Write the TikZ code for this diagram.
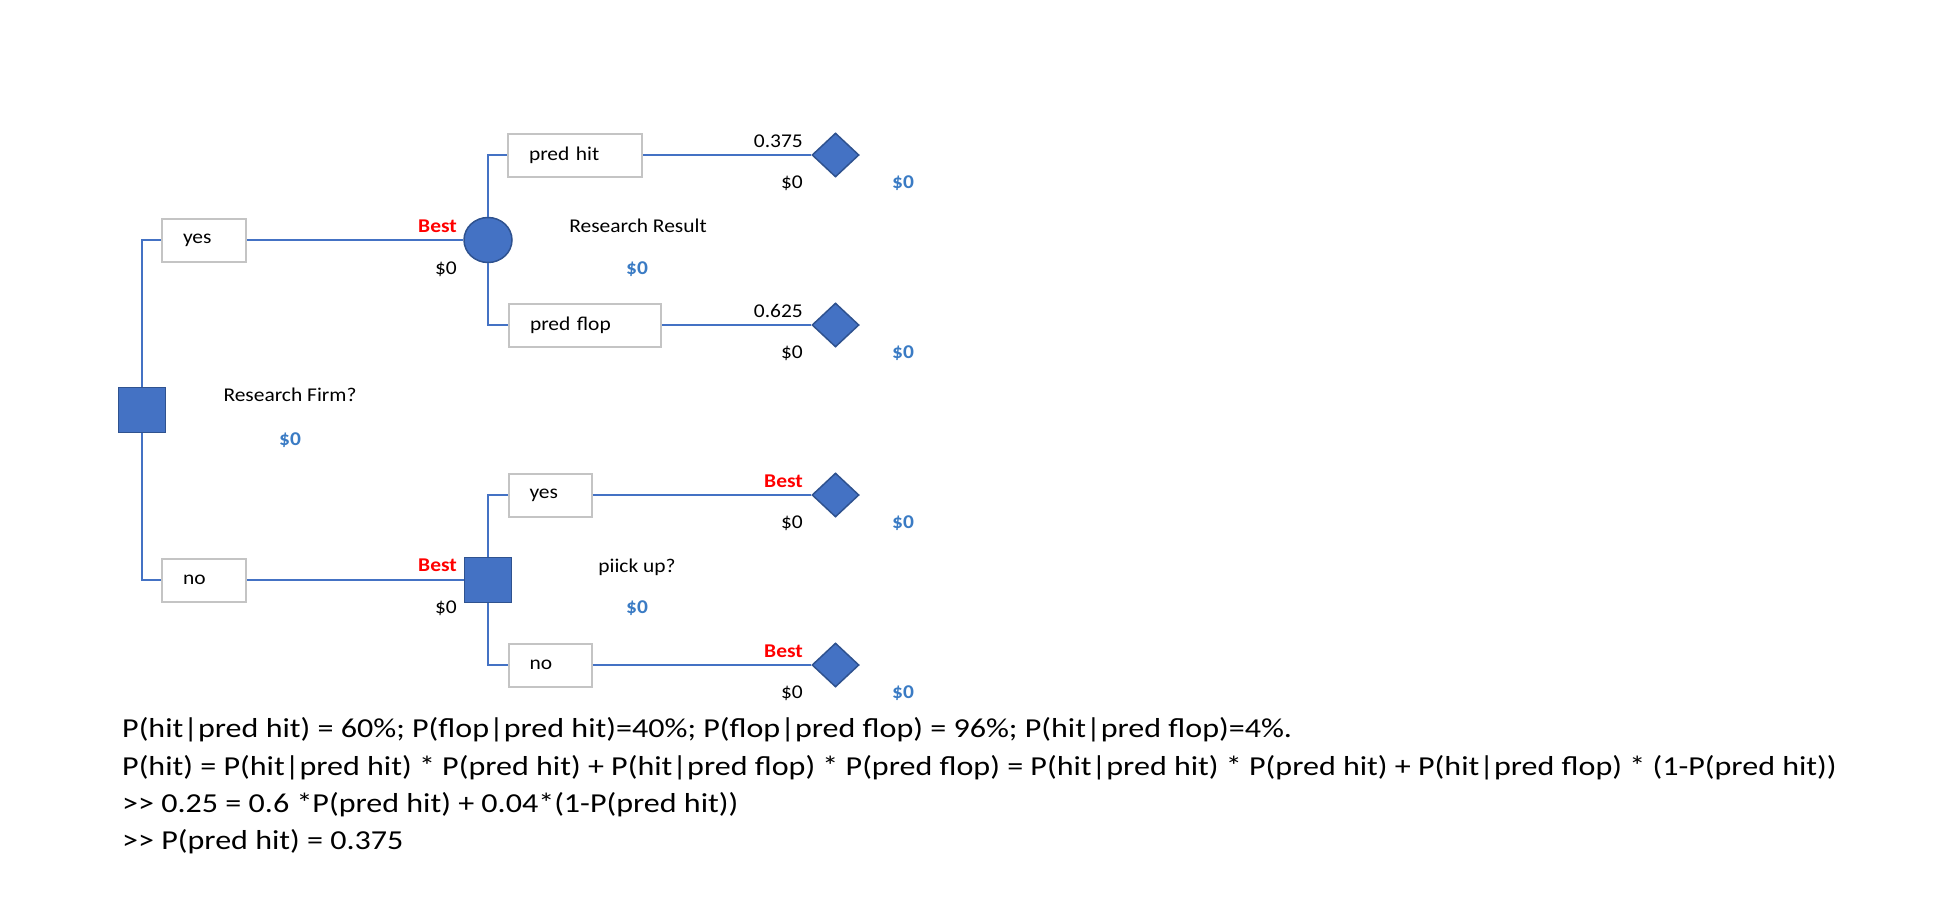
\documentclass[tikz,border=0pt]{standalone}
\usepackage{fontspec}
\setmainfont{Carlito}
\newfontfamily\diagfont{Carlito}[FakeStretch=1.1]
\newfontfamily\bottomfont{Carlito}[FakeStretch=1.17]
\usetikzlibrary{shapes.geometric}
\definecolor{nodeblue}{HTML}{4472C4}
\definecolor{nodeedge}{HTML}{2F528F}
\definecolor{boxgray}{HTML}{C4C4C4}
\definecolor{valblue}{HTML}{3A7BC4}
\definecolor{bestred}{HTML}{FF0000}
\tikzset{
  lbl/.style={inner sep=0pt, font=\diagfont\fontsize{19.5}{22}\selectfont},
  bestlbl/.style={lbl, text=bestred, font=\diagfont\fontsize{19.5}{22}\selectfont\bfseries, anchor=base east},
  vallbl/.style={lbl, anchor=base east},
  bluelbl/.style={lbl, text=valblue, font=\diagfont\fontsize{19.5}{22}\selectfont\bfseries, anchor=base},
  titlelbl/.style={lbl, anchor=base},
  branchbox/.style={draw=boxgray, line width=2pt, fill=white, inner xsep=21pt, inner ysep=0pt,
     minimum height=43pt, align=left, font=\diagfont\fontsize{19.5}{22}\selectfont},
  decnode/.style={rectangle, fill=nodeblue, draw=nodeedge, line width=1.5pt, minimum width=47pt, minimum height=45pt, inner sep=0pt},
  chancenode/.style={ellipse, fill=nodeblue, draw=nodeedge, line width=1.5pt, minimum width=48pt, minimum height=45pt, inner sep=0pt},
  endnode/.style={diamond, fill=nodeblue, draw=nodeedge, line width=1.5pt, minimum width=47pt, minimum height=44pt, inner sep=0pt},
  conn/.style={draw=nodeblue, line width=1.5pt},
  bottomtxt/.style={inner sep=0pt, anchor=base west, font=\bottomfont\fontsize{27.4}{30}\selectfont}
}
\begin{document}
\begin{tikzpicture}[x=1pt, y=-1pt]
\useasboundingbox (0,0) rectangle (1958,916);

% connectors first (drawn between named nodes below via coordinates of nodes)
\node[decnode] (root) at (142,410) {};
\node[branchbox, text width=42pt] (yes1) at (204,240) {yes};
\node[branchbox, text width=42pt] (no1) at (204,580) {no};
\node[chancenode] (c1) at (488,240) {};
\node[decnode] (s2) at (488,580) {};
\node[branchbox, text width=92pt] (ph) at (575,155) {pred hit};
\node[branchbox, text width=110pt] (pf) at (585,325) {pred flop};
\node[branchbox, text width=41pt] (y2) at (550,495) {yes};
\node[branchbox, text width=41pt] (n2) at (550,665) {no};
\node[endnode] (d1) at (835.5,155) {};
\node[endnode] (d2) at (835.5,325) {};
\node[endnode] (d3) at (835.5,495) {};
\node[endnode] (d4) at (835.5,665) {};

\draw[conn] (root) |- (yes1);
\draw[conn] (root) |- (no1);
\draw[conn] (yes1) -- (c1);
\draw[conn] (no1) -- (s2);
\draw[conn] (c1) |- (ph);
\draw[conn] (c1) |- (pf);
\draw[conn] (s2) |- (y2);
\draw[conn] (s2) |- (n2);
\draw[conn] (ph) -- (d1);
\draw[conn] (pf) -- (d2);
\draw[conn] (y2) -- (d3);
\draw[conn] (n2) -- (d4);

% labels
\node[titlelbl] (rfT) at (290,401) {Research Firm?};
\node[bluelbl] (rfV) at (290,445) {\$0};

\node[bestlbl] (c1B) at (457,232) {Best};
\node[vallbl] (c1V) at (457,274) {\$0};
\node[titlelbl] (rrT) at (638,232) {Research Result};
\node[bluelbl] (rrV) at (637,274) {\$0};

\node[bestlbl] (s2B) at (457,571) {Best};
\node[vallbl] (s2V) at (457,613) {\$0};
\node[titlelbl] (puT) at (637,572) {piick up?};
\node[bluelbl] (puV) at (637,613) {\$0};

\node[vallbl] (d1P) at (803,147) {0.375};
\node[vallbl] (d1V) at (803,188) {\$0};
\node[bluelbl] (d1E) at (903,188) {\$0};

\node[vallbl] (d2P) at (803,317) {0.625};
\node[vallbl] (d2V) at (803,358) {\$0};
\node[bluelbl] (d2E) at (903,358) {\$0};

\node[bestlbl] (d3B) at (803,487) {Best};
\node[vallbl] (d3V) at (803,528) {\$0};
\node[bluelbl] (d3E) at (903,528) {\$0};

\node[bestlbl] (d4B) at (803,657) {Best};
\node[vallbl] (d4V) at (803,698) {\$0};
\node[bluelbl] (d4E) at (903,698) {\$0};

% bottom text
\node[bottomtxt] (t1) at (122,737) {P(hit|pred hit) = 60\%; P(flop|pred hit)=40\%; P(flop|pred flop) = 96\%; P(hit|pred flop)=4\%.};
\node[bottomtxt] (t2) at (122,775) {P(hit) = P(hit|pred hit) * P(pred hit) + P(hit|pred flop) * P(pred flop) = P(hit|pred hit) * P(pred hit) + P(hit|pred flop) * (1-P(pred hit))};
\node[bottomtxt] (t3) at (122,812) {>{}> 0.25 = 0.6 *P(pred hit) + 0.04*(1-P(pred hit))};
\node[bottomtxt] (t4) at (122,849) {>{}> P(pred hit) = 0.375};
\end{tikzpicture}
\end{document}
